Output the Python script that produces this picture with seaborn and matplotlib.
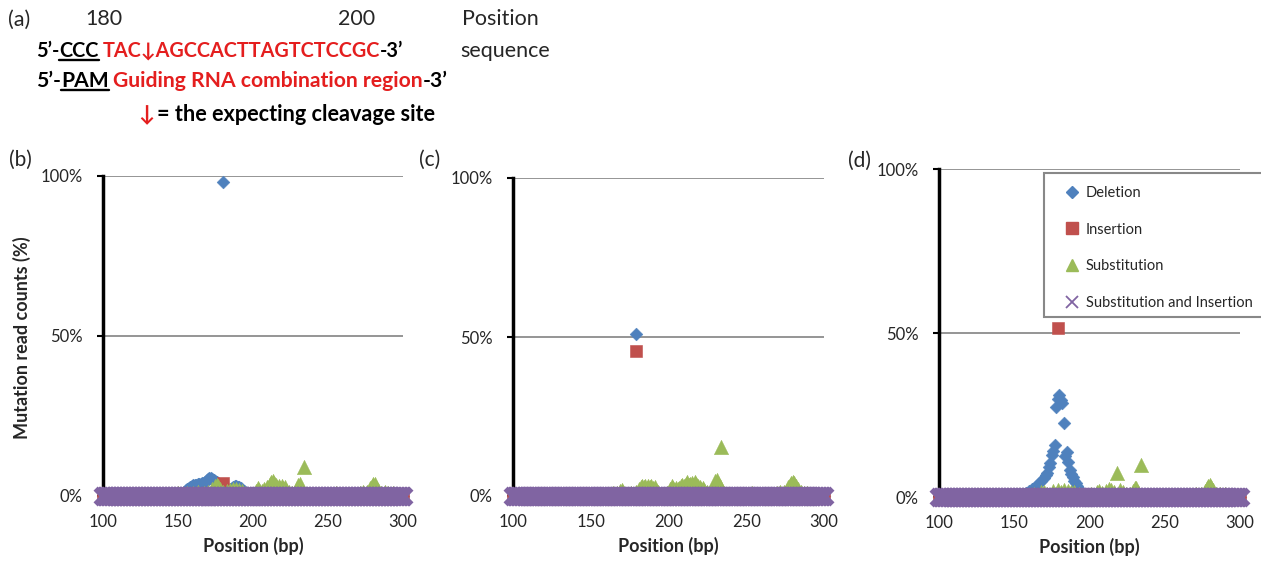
import matplotlib
matplotlib.use("Agg")
import matplotlib.pyplot as plt
import seaborn as sns
from matplotlib.lines import Line2D
from matplotlib.patches import Rectangle

W, H = 1261, 562
FONT = ["Lato", "DejaVu Sans"]
RED = "#E41E1E"

# every position on the amplicon is plotted (value 0 unless listed below)
positions = list(range(100, 301))

# (b) non-zero mutation read counts (%) by position
b_del = {153: 0.6, 154: 1.2, 155: 1.8, 156: 2.2, 157: 2.6, 158: 2.9, 159: 3.1, 160: 3.3,
         161: 3.4, 162: 3.5, 163: 3.6, 164: 3.7, 165: 3.9, 166: 4.0, 167: 4.2, 168: 4.5,
         169: 4.9, 170: 5.3, 171: 5.6, 172: 5.6, 173: 5.4, 174: 5.0, 175: 4.6, 176: 4.3,
         177: 4.1, 178: 3.8, 179: 3.4, 180: 98.0, 181: 2.6, 182: 2.2, 183: 1.8, 184: 1.8,
         185: 2.2, 186: 2.6, 187: 2.9, 188: 3.0, 189: 3.0, 190: 2.9, 191: 2.7, 192: 2.4,
         193: 2.0, 194: 1.6, 195: 1.2, 196: 0.9, 197: 0.6, 198: 0.4}
b_ins = {180: 4.0}
b_sub = {118: 0.4, 126: 0.3, 134: 0.4, 141: 0.5, 147: 0.6, 150: 0.8, 156: 1.0, 160: 0.8,
         163: 1.2, 167: 0.9, 170: 1.4, 173: 2.2, 175: 3.0, 176: 3.3, 177: 3.0, 178: 2.2,
         180: 1.2, 183: 1.6, 185: 2.0, 187: 2.2, 189: 2.3, 191: 2.0, 193: 1.6, 195: 1.0,
         199: 0.6, 202: 1.5, 203: 2.6, 204: 2.0, 206: 1.6, 207: 2.2, 209: 2.8, 211: 3.8,
         212: 4.4, 213: 4.8, 214: 4.2, 215: 3.4, 216: 2.8, 217: 3.2, 218: 2.6, 219: 3.0,
         220: 2.4, 221: 2.8, 222: 2.0, 224: 1.4, 226: 1.0, 229: 2.4, 230: 3.4, 231: 3.6,
         232: 2.6, 233: 1.4, 234: 9.0, 236: 0.6, 240: 0.4, 246: 0.3, 251: 0.5, 255: 0.8,
         259: 0.3, 266: 0.4, 271: 1.0, 273: 1.2, 276: 1.4, 278: 2.4, 279: 3.2, 280: 3.8,
         281: 3.6, 282: 2.8, 283: 1.8, 285: 1.0, 288: 1.1, 290: 0.9, 293: 1.0, 297: 0.4}
b_subins = {}

# (c)
c_del = {176: 0.4, 179: 51.0, 183: 0.3}
c_ins = {175: 0.8, 177: 0.6, 179: 45.7}
c_sub = {110: 0.3, 120: 0.4, 130: 0.3, 139: 0.5, 143: 0.6, 148: 0.5, 152: 0.7, 156: 0.6,
         160: 0.7, 164: 0.9, 167: 0.8, 169: 1.6, 170: 2.0, 171: 1.3, 176: 1.0, 179: 1.4,
         181: 2.2, 182: 2.8, 183: 3.2, 184: 2.8, 185: 3.0, 186: 2.6, 187: 3.1, 188: 2.7,
         189: 3.0, 190: 2.4, 191: 2.8, 192: 2.0, 193: 1.2, 196: 0.6, 199: 0.8, 201: 2.2,
         202: 3.0, 203: 2.6, 204: 2.0, 205: 2.6, 206: 2.2, 207: 2.4, 208: 3.0, 209: 3.4,
         210: 3.0, 211: 3.8, 212: 4.4, 213: 3.6, 214: 3.8, 215: 4.0, 216: 3.6, 217: 4.4,
         218: 3.8, 219: 3.2, 220: 2.8, 221: 2.2, 222: 2.6, 223: 1.8, 225: 1.2, 227: 1.0,
         228: 2.0, 229: 3.6, 230: 4.8, 231: 5.0, 232: 4.2, 233: 3.0, 234: 15.4, 235: 1.4,
         238: 0.4, 244: 0.3, 249: 0.4, 254: 0.8, 260: 0.3, 266: 0.4, 270: 0.9, 272: 1.2,
         274: 1.4, 276: 2.0, 277: 2.8, 278: 3.6, 279: 4.2, 280: 4.4, 281: 4.0, 282: 3.2,
         283: 2.2, 285: 1.2, 287: 1.0, 289: 1.1, 291: 0.6, 294: 0.4}
c_subins = {}

# (d)
d_del = {135: 0.4, 138: 0.5, 141: 0.6, 144: 0.6, 147: 0.7, 150: 0.8, 153: 0.9, 156: 1.0,
         158: 1.3, 160: 1.8, 162: 2.4, 164: 3.2, 166: 4.0, 168: 4.8, 170: 5.8, 171: 6.6,
         172: 7.3, 173: 9.0, 174: 10.5, 175: 12.8, 176: 14.0, 177: 15.9, 178: 27.5,
         179: 30.0, 180: 31.0, 181: 29.5, 182: 28.6, 183: 22.5, 184: 12.5, 185: 13.7,
         186: 10.7, 187: 8.2, 188: 7.0, 189: 6.0, 190: 5.0, 191: 4.2, 192: 3.4, 193: 2.4,
         194: 1.8, 195: 1.2, 196: 0.8, 198: 0.5, 200: 0.3, 210: 0.3}
d_ins = {175: 0.8, 178: 0.6, 179: 51.6}
d_sub = {108: 0.3, 118: 0.4, 127: 0.3, 136: 0.4, 145: 0.3, 155: 0.6, 163: 0.8, 168: 1.4,
         170: 1.6, 172: 1.0, 176: 1.8, 179: 2.0, 181: 1.6, 183: 2.0, 186: 1.8, 188: 1.4,
         190: 1.6, 193: 1.0, 196: 0.6, 201: 0.8, 205: 1.4, 206: 1.8, 208: 1.2, 211: 1.8,
         213: 2.4, 214: 2.0, 216: 1.6, 218: 7.3, 220: 2.0, 222: 1.6, 224: 1.0, 227: 0.8,
         229: 1.8, 230: 2.8, 231: 2.6, 232: 1.4, 234: 9.8, 236: 0.6, 242: 0.3, 250: 0.4,
         258: 0.3, 265: 0.4, 271: 0.8, 274: 1.0, 277: 1.8, 278: 2.6, 279: 3.4, 280: 3.8,
         281: 3.2, 282: 2.2, 284: 1.0, 287: 0.8, 290: 0.9, 294: 0.4}
d_subins = {}

series_names = ["Deletion", "Insertion", "Substitution", "Substitution and Insertion"]
series_colors = ["#4F81BD", "#C0504D", "#9BBB59", "#8064A2"]
series_markers = ["D", "s", "^", "x"]
series_sizes = [42, 85, 105, 130]

panels = [
    ("(b)", (103, 176, 403, 496), (9, 160), [b_del, b_ins, b_sub, b_subins]),
    ("(c)", (513, 178, 824, 496), (419, 160), [c_del, c_ins, c_sub, c_subins]),
    ("(d)", (939, 169, 1240, 497), (848, 161), [d_del, d_ins, d_sub, d_subins]),
]

sns.set_style("white")
plt.rcParams["font.family"] = FONT

fig = plt.figure(figsize=(W / 100, H / 100), dpi=100)


def fx(x):
    return x / W


def fy(y):
    return 1 - y / H


for label, (l, t, r, b), (lx, ly), data in panels:
    ax = fig.add_axes([fx(l), fy(b), (r - l) / W, (b - t) / H])
    for vals, name, color, marker, size in zip(data, series_names, series_colors,
                                               series_markers, series_sizes):
        yv = [vals.get(p, 0.0) for p in positions]
        if marker == "x":
            sns.scatterplot(x=positions, y=yv, marker="x", color=color, s=size,
                            linewidth=4.2, clip_on=False, ax=ax, zorder=5)
        else:
            sns.scatterplot(x=positions, y=yv, marker=marker, color=color, s=size,
                            edgecolor=color, linewidth=0.4, clip_on=False, ax=ax,
                            zorder=4)
    ax.set_xlim(100, 300)
    ax.set_ylim(0, 100)
    ax.set_xticks([100, 150, 200, 250, 300])
    ax.set_yticks([0, 50, 100])
    ax.set_yticklabels(["0%", "50%", "100%"])
    ax.yaxis.grid(True, color="#8C8C8C", linewidth=1.3)
    ax.xaxis.grid(False)
    ax.set_axisbelow(True)
    for s in ["top", "right", "bottom"]:
        ax.spines[s].set_visible(False)
    ax.spines["left"].set_color("black")
    ax.spines["left"].set_linewidth(2.5)
    ax.tick_params(axis="y", length=4, width=1.5, color="black", pad=10.5,
                   labelsize=12, left=True)
    ax.tick_params(axis="x", length=0, pad=13, labelsize=12)
    ax.set_xlabel("Position (bp)", fontsize=13, fontweight="bold", labelpad=5)
    ax.set_ylabel("")
    fig.text(fx(lx), fy(ly), label, fontsize=15, ha="left", va="center")

fig.text(fx(22), fy(338), "Mutation read counts (%)", rotation=90, fontsize=13,
         fontweight="bold", ha="center", va="center")

# legend of panel (d), box runs past the right edge as in the original
fig.add_artist(Rectangle((fx(1044), fy(317)), (1275 - 1044) / W, (317 - 173) / H,
                         transform=fig.transFigure, facecolor="white",
                         edgecolor="#888888", linewidth=1.5, zorder=6))
handles = [
    Line2D([], [], linestyle="none", marker="D", markersize=6.5, color=series_colors[0]),
    Line2D([], [], linestyle="none", marker="s", markersize=8.5, color=series_colors[1]),
    Line2D([], [], linestyle="none", marker="^", markersize=9, color=series_colors[2]),
    Line2D([], [], linestyle="none", marker="x", markersize=8.5, markeredgewidth=1.3,
           color=series_colors[3]),
]
leg = fig.legend(handles, series_names, loc="upper left",
                 bbox_to_anchor=(fx(1063), fy(186)), bbox_transform=fig.transFigure,
                 frameon=False, fontsize=10.5, handlelength=1.2, handletextpad=0.35,
                 labelspacing=1.55, borderpad=0, borderaxespad=0)
leg.set_zorder(7)

# panel (a): sequence annotation
renderer = fig.canvas.get_renderer()


def text_runs(x, y, runs, size):
    for s, color, ul, gap in runs:
        x += gap
        t = fig.text(fx(x), fy(y), s, color=color, fontsize=size, fontweight="bold",
                     ha="left", va="baseline")
        bb = t.get_window_extent(renderer=renderer)
        if ul:
            fig.add_artist(Line2D([bb.x0 / W, bb.x1 / W], [fy(y + 3)] * 2,
                                  color="black", linewidth=1.7,
                                  transform=fig.transFigure))
        x = bb.x1


fig.text(fx(8), fy(26), "(a)", fontsize=15.5, ha="left", va="baseline")
fig.text(fx(104), fy(25), "180", fontsize=15.5, ha="center", va="baseline")
fig.text(fx(357), fy(25), "200", fontsize=15.5, ha="center", va="baseline")
fig.text(fx(462), fy(25), "Position", fontsize=15.5, ha="left", va="baseline")
fig.text(fx(460), fy(57), "sequence", fontsize=15.5, ha="left", va="baseline")

text_runs(36, 57, [("5’-", "black", False, 0), ("CCC", "black", True, 0),
                   ("TAC↓AGCCACTTAGTCTCCGC", RED, False, 4), ("-3’", "black", False, 0)],
          14.3)
text_runs(36, 87, [("5’-", "black", False, 0), ("PAM", "black", True, 0),
                   ("Guiding RNA combination region", RED, False, 4),
                   ("-3’", "black", False, 0)], 15.2)
text_runs(138, 121, [("↓", RED, False, 0), ("= the expecting cleavage site", "black", False, 3)],
          15.6)

fig.savefig("out.png", dpi=100)
